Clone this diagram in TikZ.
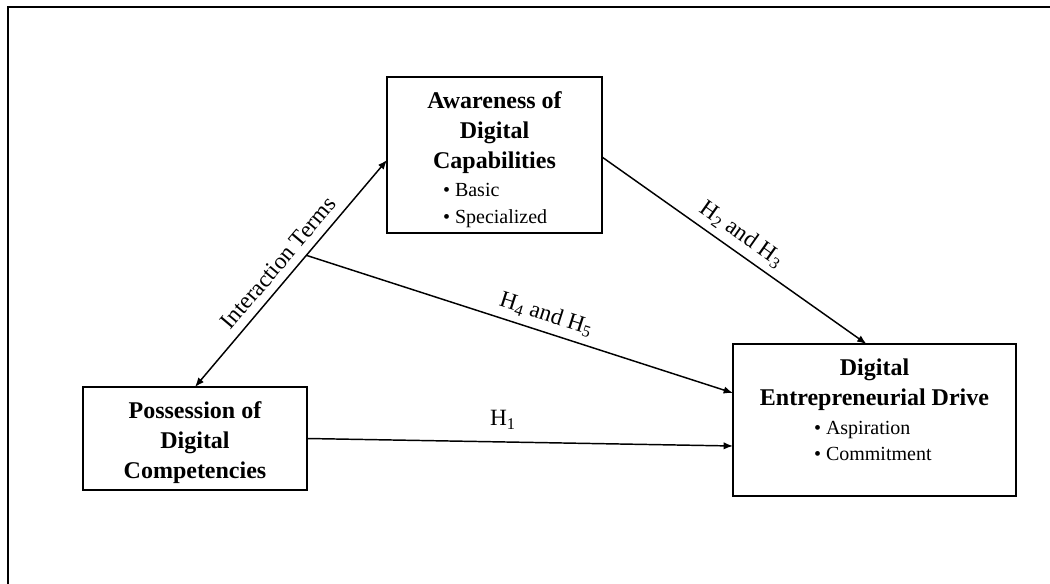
\documentclass[tikz,border=0pt]{standalone}
\usepackage{fontspec}
\setmainfont{Liberation Serif}
\usetikzlibrary{arrows.meta,calc}
\begin{document}
\begin{tikzpicture}[x=0.75pt,y=-0.75pt,
  box/.style={draw,line width=2pt,inner sep=0pt,outer sep=0pt},
  conn/.style={line width=1.1pt,-{Latex[length=7pt,width=5.5pt]}},
  lab/.style={font=\fontsize{17.5}{20}\selectfont,inner sep=1pt}]
\useasboundingbox (0,0) rectangle (1050,584);
\begin{scope}
  \clip (0,0) rectangle (1050,584);
  \draw[line width=2pt] (8,700) -- (8,7) -- (1100,7);
\end{scope}

\node[box] (aware) at (494.5,155) {\begin{minipage}[c][117pt][t]{161.25pt}
\centering\bfseries\fontsize{18}{22.5}\selectfont
\rule{0pt}{24pt}Awareness of\\Digital\\Capabilities\par
\normalfont\fontsize{15}{20}\selectfont\raggedright\leftskip=42pt\vspace{1pt}
\textbullet\ Basic\\
\textbullet\ Specialized\par
\end{minipage}};

\node[box] (ded) at (874.5,420) {\begin{minipage}[c][114pt][t]{212.25pt}
\centering\bfseries\fontsize{18}{22.5}\selectfont
\rule{0pt}{23.5pt}Digital\\Entrepreneurial Drive\par
\normalfont\fontsize{15}{19.5}\selectfont\raggedright\leftskip=60.75pt\vspace{2.25pt}
\textbullet\ Aspiration\\
\textbullet\ Commitment\par
\end{minipage}};

\node[box] (poss) at (195,438.5) {\begin{minipage}[c][77.25pt][t]{168pt}
\centering\bfseries\fontsize{18}{22.5}\selectfont
\rule{0pt}{24pt}Possession of\\Digital\\Competencies\par
\end{minipage}};

\draw[line width=1.1pt,{Latex[length=7pt,width=5.5pt]}-{Latex[length=7pt,width=5.5pt]}]
  (poss.north) -- coordinate[pos=0.58] (split)
  node[lab,sloped,above=5pt,pos=0.5] {Interaction Terms}
  ([yshift=-3.75pt]aware.west);

\draw[conn] (split) -- node[lab,sloped,above=4pt,pos=0.55] {H\textsubscript{4} and H\textsubscript{5}}
  ([yshift=20.25pt]ded.west);

\draw[conn] (poss.east) -- node[lab,above=8pt,pos=0.46] {H\textsubscript{1}}
  ([yshift=-19.5pt]ded.west);

\draw[conn] ([yshift=-1.5pt]aware.east) -- node[lab,sloped,above=4pt,pos=0.49] {H\textsubscript{2} and H\textsubscript{3}}
  ([xshift=-6pt]ded.north);
\end{tikzpicture}
\end{document}
